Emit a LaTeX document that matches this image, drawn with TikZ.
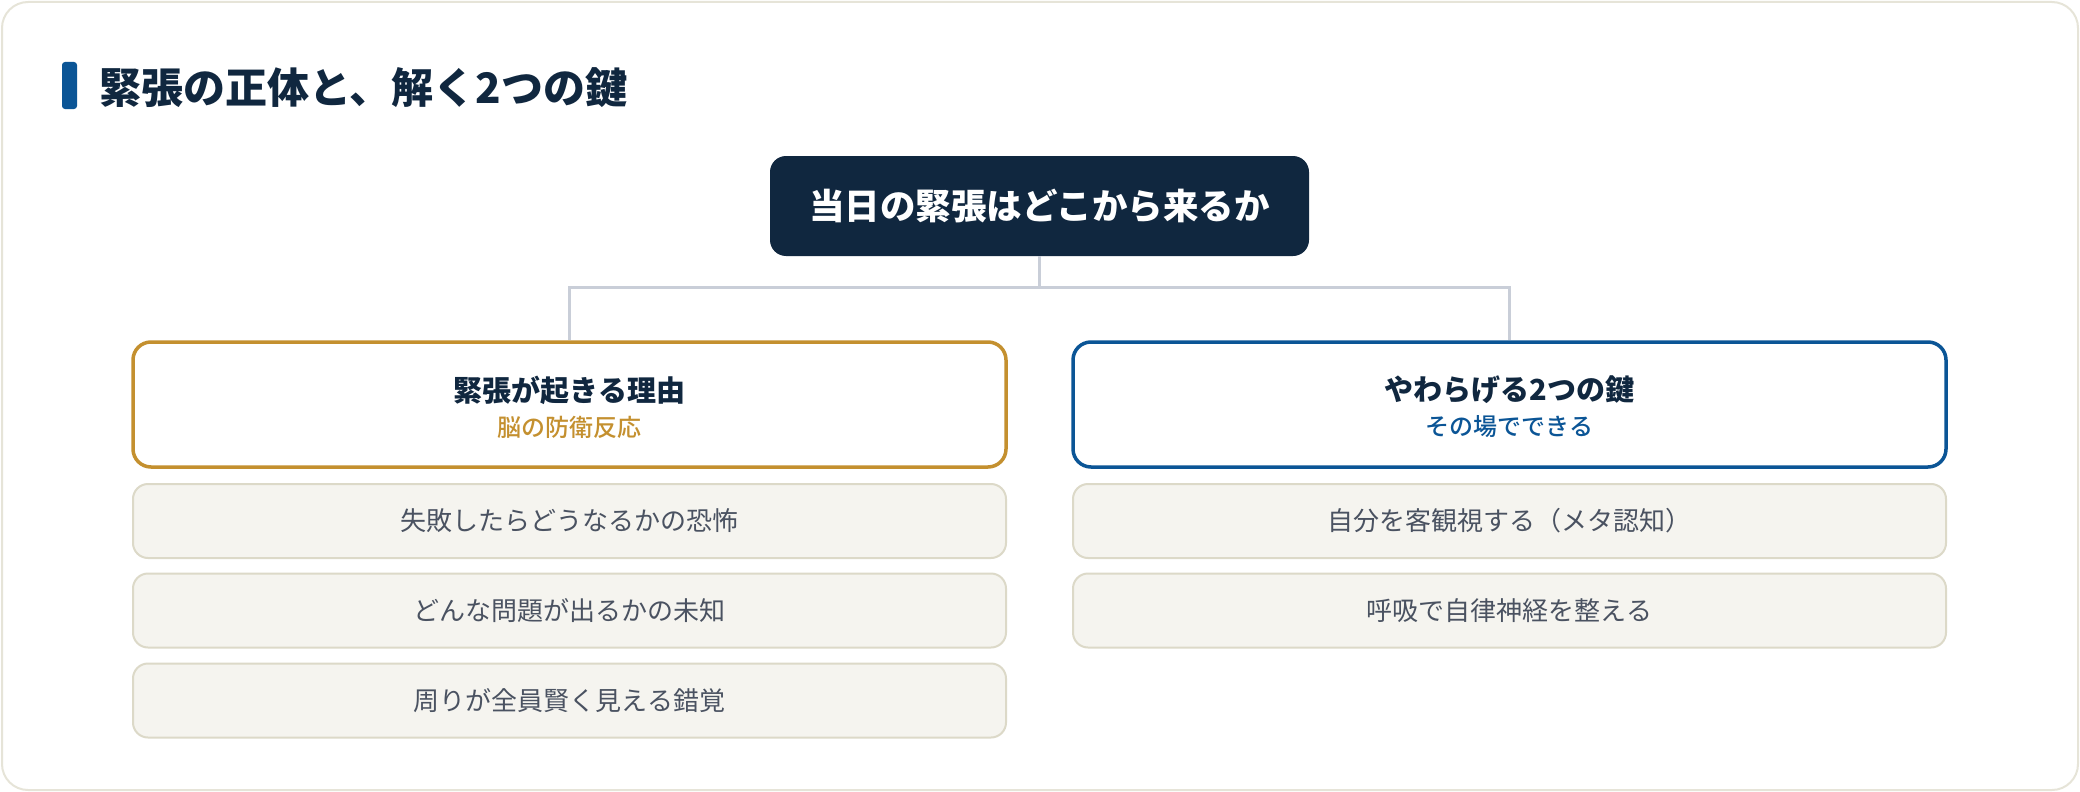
\documentclass[tikz,border=0pt]{standalone}
\usepackage{fontspec}
\setmainfont{Noto Sans CJK JP}
\newfontfamily\jpmed{Noto Sans CJK JP Medium}
\definecolor{navy}{HTML}{10273F}
\definecolor{gold}{HTML}{C4902F}
\definecolor{keyblue}{HTML}{0B5596}
\definecolor{itemfill}{HTML}{F5F4EF}
\definecolor{itemline}{HTML}{DCD9C8}
\definecolor{itemtext}{HTML}{4A5261}
\definecolor{connline}{HTML}{C9CED8}
\definecolor{cardline}{HTML}{E6E4D8}
\tikzset{
  rootbox/.style={fill=navy, rounded corners=16, minimum width=539, minimum height=100, inner sep=0, text=white, font=\fontsize{35.5}{42}\selectfont\bfseries},
  headbox/.style={draw=#1, line width=3.5pt, fill=white, rounded corners=18, minimum width=873, minimum height=125, inner sep=0},
  headtitle/.style={inner sep=0, text=navy, font=\fontsize{29}{34}\selectfont\bfseries},
  headsub/.style={inner sep=0, text=#1, font=\fontsize{24}{28}\selectfont\jpmed},
  itembox/.style={draw=itemline, line width=2pt, fill=itemfill, rounded corners=15, minimum width=873, minimum height=74, inner sep=0, text=itemtext, font=\fontsize{26}{30}\selectfont},
  conn/.style={draw=connline, line width=3pt},
}
\begin{document}
\begin{tikzpicture}[x=1pt,y=-1pt]
\useasboundingbox (0,0) rectangle (2080,792);
% card
\draw[cardline, line width=2pt, fill=white, rounded corners=26] (2,2) rectangle (2078,790);
% title
\node[fill=keyblue, minimum width=15, minimum height=47, rounded corners=3, inner sep=0] (bar) at (69.5,85.5) {};
\node[anchor=west, inner sep=0, text=navy, font=\fontsize{42}{50}\selectfont\bfseries] (title) at (99,88) {緊張の正体と、解く2つの鍵};
% root
\node[rootbox] (root) at (1039.5,206) {当日の緊張はどこから来るか};
% headers
\node[headbox=gold] (lhead) at (569.5,404.5) {};
\node[headtitle] (lheadt) at (569.5,390) {緊張が起きる理由};
\node[headsub=gold] (lheads) at (569.5,427) {脳の防衛反応};
\node[headbox=keyblue] (rhead) at (1509.5,404.5) {};
\node[headtitle] (rheadt) at (1509.5,390) {やわらげる2つの鍵};
\node[headsub=keyblue] (rheads) at (1509.5,427) {その場でできる};
% connectors
\coordinate (bus) at (1039.5,287);
\draw[conn] (root.south) -- (bus);
\draw[conn] (bus) -| (lhead.north);
\draw[conn] (bus) -| (rhead.north);
% items
\node[itembox] (l1) at (569.5,521) {失敗したらどうなるかの恐怖};
\node[itembox] (l2) at (569.5,610.5) {どんな問題が出るかの未知};
\node[itembox] (l3) at (569.5,700.5) {周りが全員賢く見える錯覚};
\node[itembox] (r1) at (1509.5,521) {自分を客観視する（メタ認知）};
\node[itembox] (r2) at (1509.5,610.5) {呼吸で自律神経を整える};
\end{tikzpicture}
\end{document}
